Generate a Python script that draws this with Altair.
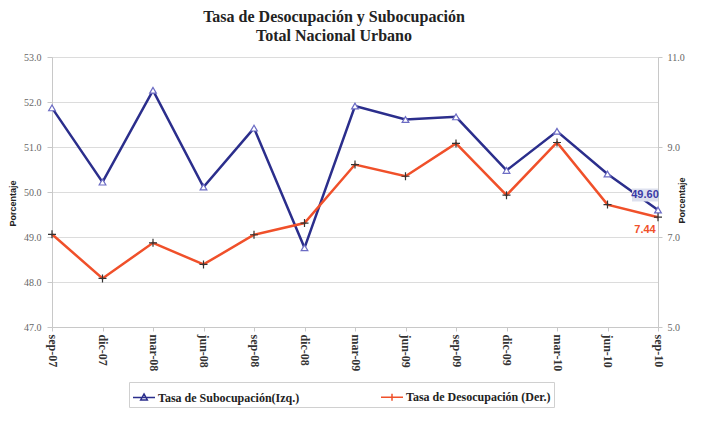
import altair as alt
import pandas as pd

periodos = ["sep-07", "dic-07", "mar-08", "jun-08", "sep-08", "dic-08", "mar-09",
            "jun-09", "sep-09", "dic-09", "mar-10", "jun-10", "sep-10"]
subocupacion = [51.87, 50.22, 52.26, 50.11, 51.42, 48.76, 51.91, 51.61, 51.67,
                50.48, 51.35, 50.40, 49.60]
desocupacion = [7.06, 6.08, 6.87, 6.39, 7.05, 7.31, 8.61, 8.35, 9.08, 7.93,
                9.10, 7.72, 7.44]
series = ["Tasa de Subocupación(Izq.)", "Tasa de Desocupación (Der.)"]
left_ticks = [47, 48, 49, 50, 51, 52, 53]
right_ticks = [5, 7, 9, 11]

NAVY = "#2b2e8c"
RED = "#f0502a"
SERIF = "Liberation Serif"
SANS = "Liberation Sans"

df = pd.DataFrame({"periodo": periodos, "sub": subocupacion, "des": desocupacion})

x_enc = alt.X(
    "periodo:N", sort=periodos, title=None,
    scale=alt.Scale(type="point", padding=0),
    axis=alt.Axis(labelAngle=90, labelFont=SERIF, labelFontSize=12,
                  labelFontWeight="bold", labelColor="#333",
                  domainColor="#c8c8c8", tickColor="#c8c8c8", tickSize=4,
                  labelPadding=3, grid=False),
)

y_left = alt.Y(
    "sub:Q",
    scale=alt.Scale(domain=[47, 53], nice=False, zero=False),
    axis=alt.Axis(values=left_ticks, format=".1f", title="Porcentaje",
                  titleFont=SANS, titleFontWeight="bold", titleFontSize=9,
                  titleColor="#222", titleAngle=270, titleBaseline="bottom",
                  titleX=-35, titleY=146, titleAlign="center",
                  labelFont=SERIF, labelFontSize=10, labelColor="#666",
                  tickSize=5, labelPadding=6, tickColor="#c8c8c8",
                  domainColor="#c8c8c8", gridColor="#dcdcdc"),
)

y_right = alt.Y(
    "des:Q",
    scale=alt.Scale(domain=[5, 11], nice=False, zero=False),
    axis=alt.Axis(orient="right", values=right_ticks, format=".1f", title="Porcentaje",
                  titleFont=SANS, titleFontWeight="bold", titleFontSize=9,
                  titleColor="#222", titleAngle=270, titleBaseline="bottom",
                  titleX=28, titleY=143, titleAlign="center",
                  labelFont=SERIF, labelFontSize=10, labelColor="#666",
                  tickSize=4, labelPadding=5, tickColor="#c8c8c8",
                  domainColor="#c8c8c8", grid=False),
)

base = alt.Chart(df)

sub_line = base.mark_line(color=NAVY, strokeWidth=2.5).encode(x=x_enc, y=y_left)
sub_pts = base.mark_point(shape="triangle-up", filled=True, fill="white",
                          stroke="#6c6cc4", strokeWidth=1.2, size=45,
                          opacity=1).encode(x=x_enc, y=y_left)
sub_box = base.transform_filter(alt.datum.periodo == "sep-10").mark_point(
    shape="M-1,-0.5H1V0.5H-1Z", filled=True, fill="#dde0ee", strokeWidth=0,
    size=676, opacity=1, xOffset=-13, yOffset=-15).encode(x=x_enc, y=y_left)
sub_txt = base.transform_filter(alt.datum.periodo == "sep-10").mark_text(
    font=SANS, fontSize=11, fontWeight="bold", color="#3a3aa6",
    dx=-13, dy=-15).encode(x=x_enc, y=y_left, text=alt.Text("sub:Q", format=".2f"))

legend = alt.Legend(
    title=None, orient="none", legendX=77, legendY=325, direction="horizontal",
    columnPadding=78, padding=3, fillColor="white", strokeColor="#d0d0d0",
    labelFont=SERIF, labelFontSize=12, labelFontWeight="bold", labelColor="#222",
    symbolSize=484, symbolStrokeWidth=1.5, labelOffset=2, labelLimit=400,
)
legend_layer = alt.Chart(pd.DataFrame({"serie": series})).transform_filter(
    "false").mark_point(filled=False, fill="white", strokeWidth=1.5, opacity=1).encode(
    stroke=alt.Stroke("serie:N", scale=alt.Scale(domain=series, range=[NAVY, RED]),
                      legend=legend),
    shape=alt.Shape("serie:N", scale=alt.Scale(
        domain=series,
        range=["M-1,0H1M0,-0.32L0.3,0.22L-0.3,0.22Z", "M-1,0H1M0,-0.32V0.32"]),
        legend=legend),
)

left = alt.layer(sub_line, sub_pts, sub_box, sub_txt, legend_layer)

des_line = base.mark_line(color=RED, strokeWidth=2.5).encode(x=x_enc, y=y_right)
des_pts = base.mark_point(shape="M-1,0H1M0,-1V1", filled=False, stroke="#333",
                          strokeWidth=1.2, size=64, opacity=1).encode(x=x_enc, y=y_right)
des_txt = base.transform_filter(alt.datum.periodo == "sep-10").mark_text(
    font=SANS, fontSize=11, fontWeight="bold", color=RED,
    dx=-13, dy=13).encode(x=x_enc, y=y_right, text=alt.Text("des:Q", format=".2f"))

right = alt.layer(des_line, des_pts, des_txt)

chart = alt.layer(left, right).resolve_scale(y="independent").properties(
    width=606, height=270,
    title=alt.TitleParams(
        text=["Tasa de Desocupación y Subocupación", "Total Nacional Urbano"],
        font=SERIF, fontSize=16, fontWeight="bold", color="#222",
        anchor="middle", dx=-21, lineHeight=19, offset=8),
    autosize=alt.AutoSizeParams(type="none"),
    padding={"left": 44, "top": 49, "right": 35, "bottom": 90},
).configure_view(stroke=None).configure(background="white")

chart.save("out.html", embed_options={"renderer": "svg", "actions": False})
